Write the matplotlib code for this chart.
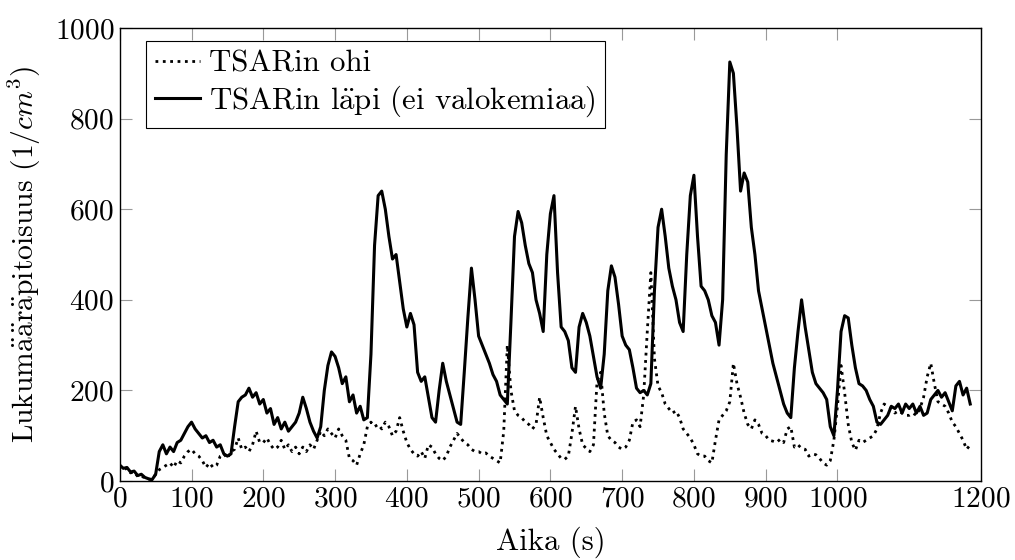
import matplotlib
matplotlib.use("Agg")
import matplotlib.pyplot as plt
import numpy as np

plt.rcParams['font.family'] = ['cmr10', 'DejaVu Serif']
plt.rcParams['mathtext.fontset'] = 'cm'
plt.rcParams['axes.formatter.use_mathtext'] = True

# time axis, 5 s steps
aika = np.arange(0, 1190, 5)

# TSARin läpi (ei valokemiaa)
lapi = [35, 28, 30, 20, 22, 12, 15, 8, 5, 3,
        15, 65, 80, 60, 75, 65, 85, 90, 105, 120,
        130, 115, 105, 95, 100, 85, 90, 75, 80, 60,
        55, 60, 120, 175, 185, 190, 205, 185, 195, 170,
        180, 150, 160, 125, 140, 115, 130, 110, 120, 130,
        150, 185, 160, 130, 110, 95, 120, 200, 255, 285,
        275, 250, 215, 230, 175, 190, 150, 165, 135, 140,
        280, 520, 630, 640, 600, 540, 490, 500, 440, 380,
        340, 370, 345, 240, 220, 230, 185, 140, 130, 200,
        260, 220, 190, 160, 130, 125, 240, 360, 470, 400,
        320, 300, 280, 260, 235, 220, 190, 180, 170, 350,
        540, 595, 570, 520, 480, 460, 400, 370, 330, 500,
        590, 630, 460, 340, 330, 310, 250, 240, 340, 370,
        350, 320, 275, 230, 205, 280, 420, 475, 450, 390,
        320, 300, 290, 250, 205, 195, 200, 190, 215, 420,
        560, 600, 540, 470, 430, 400, 350, 330, 500, 630,
        675, 540, 430, 420, 400, 365, 350, 300, 400, 720,
        925, 900, 780, 640, 680, 660, 560, 500, 420, 380,
        340, 300, 260, 230, 200, 170, 150, 140, 250, 330,
        400, 340, 290, 240, 215, 205, 195, 180, 120, 100,
        200, 330, 365, 360, 300, 250, 215, 210, 200, 180,
        165, 130, 125, 135, 145, 165, 160, 170, 150, 170,
        160, 170, 150, 165, 145, 150, 180, 190, 200, 185,
        195, 175, 155, 210, 220, 190, 205, 170]

# TSARin ohi
ohi = [35, 25, 28, 18, 20, 10, 12, 6, 4, 3,
       15, 25, 30, 35, 40, 30, 45, 40, 55, 65,
       70, 60, 55, 45, 30, 40, 30, 35, 55, 60,
       50, 65, 70, 95, 70, 75, 65, 80, 110, 85,
       85, 95, 80, 70, 75, 90, 70, 80, 65, 75,
       60, 75, 65, 80, 70, 90, 110, 100, 115, 105,
       95, 115, 100, 90, 50, 45, 35, 60, 80, 120,
       130, 120, 125, 115, 130, 120, 100, 110, 140, 110,
       85, 70, 60, 55, 65, 50, 80, 75, 60, 50,
       45, 55, 75, 90, 105, 95, 85, 80, 70, 65,
       65, 60, 62, 55, 50, 45, 40, 110, 300, 200,
       155, 145, 140, 130, 125, 115, 125, 185, 140, 100,
       85, 70, 60, 50, 48, 55, 105, 165, 115, 80,
       72, 65, 80, 220, 240, 150, 100, 90, 85, 75,
       70, 75, 90, 130, 135, 120, 190, 330, 460, 270,
       210, 195, 170, 160, 150, 155, 140, 115, 105, 95,
       80, 60, 55, 55, 45, 40, 90, 135, 145, 155,
       175, 260, 215, 185, 150, 125, 115, 135, 125, 105,
       100, 90, 88, 85, 92, 85, 115, 120, 75, 80,
       72, 70, 55, 60, 58, 50, 40, 35, 45, 90,
       165, 255, 195, 125, 85, 68, 90, 85, 90, 95,
       100, 115, 150, 170, 165, 160, 150, 155, 150, 145,
       145, 150, 145, 160, 185, 230, 260, 215, 175, 170,
       165, 150, 130, 120, 105, 90, 70, 80]

xticks = [0, 100, 200, 300, 400, 500, 600, 700, 800, 900, 1000, 1200]
yticks = [0, 200, 400, 600, 800, 1000]

# umlaut through mathtext, cmr10 has no proper ä
AE = r'$\ddot{\mathrm{a}}$'

fs_tick = 21.2
fs = 22.2
fig = plt.figure(figsize=(10.15, 5.6), dpi=100)
ax = fig.add_axes([0.118, 0.141, 0.8485, 0.809])

ax.plot(aika, ohi, color='black', linestyle=':', linewidth=2.0, label='TSARin ohi')
ax.plot(aika, lapi, color='black', linestyle='-', linewidth=2.2,
        label='TSARin l' + AE + 'pi (ei valokemiaa)')

ax.set_xlim(0, 1200)
ax.set_ylim(0, 1000)
ax.set_xticks(xticks)
ax.set_yticks(yticks)
ax.tick_params(direction='in', length=8.5, width=0.8, color='#999999',
               top=True, right=True, labelsize=fs_tick, pad=4)
for s in ax.spines.values():
    s.set_linewidth(1.0)

ax.set_xlabel('Aika (s)', fontsize=fs, labelpad=10)
ax.set_ylabel('Lukum' + AE + AE + 'r' + AE + 'pitoisuus (1/$cm^3$)', fontsize=21.3, labelpad=8)

leg = ax.legend(loc='upper left', bbox_to_anchor=(0.03, 0.972), fontsize=fs,
                frameon=True, fancybox=False, edgecolor='black', framealpha=1,
                handlelength=1.45, handletextpad=0.3, borderpad=0.3,
                labelspacing=0.2, borderaxespad=0)
leg.get_frame().set_linewidth(0.8)

fig.savefig('out.png', dpi=100)
